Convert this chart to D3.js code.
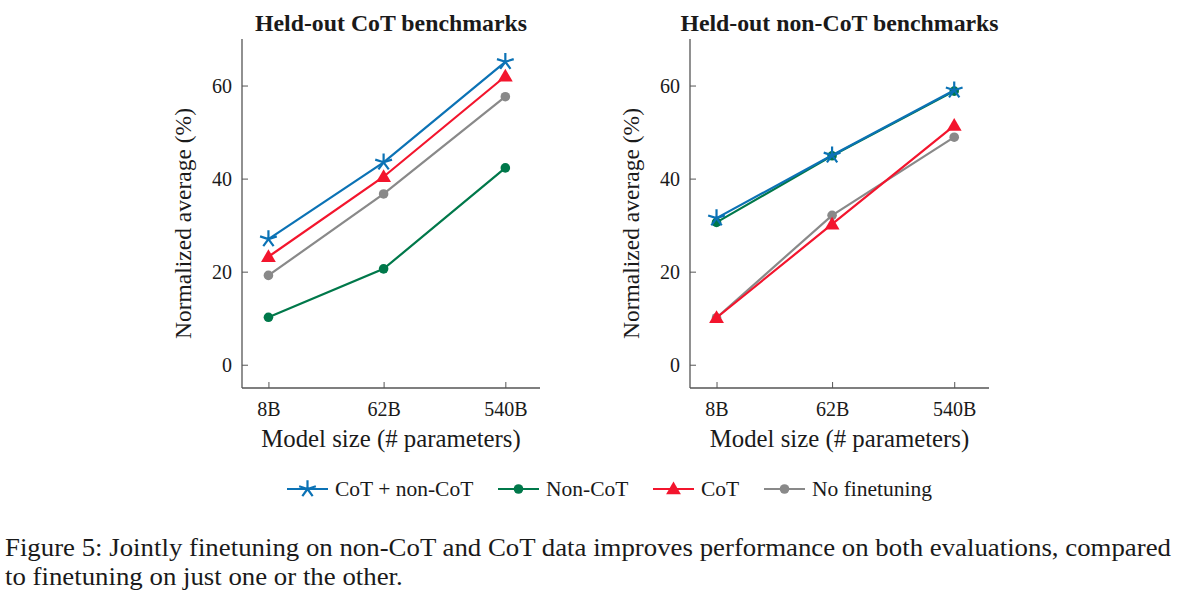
<!DOCTYPE html>
<html>
<head>
<meta charset="utf-8">
<script src="https://cdn.jsdelivr.net/npm/d3@7"></script>
<style>
  html, body { margin: 0; padding: 0; background: #fff; }
  svg { display: block; }
  text { font-family: "Liberation Serif", "Times New Roman", serif; fill: #1a1a1a; }
</style>
</head>
<body>
<svg id="chart" width="1178" height="592"></svg>
<script>
// ---- data ----
const modelSizes = [8, 62, 540];            // billions of parameters
const tickLabels = ["8B", "62B", "540B"];
const yTicks = [0, 20, 40, 60];
const seriesNames = ["CoT + non-CoT", "Non-CoT", "CoT", "No finetuning"];
const panelTitles = ["Held-out CoT benchmarks", "Held-out non-CoT benchmarks"];

// Held-out CoT benchmarks
const cotBoth   = [27.0, 43.5, 65.1];
const cotNonCoT = [10.2, 20.6, 42.3];
const cotCoT    = [23.2, 40.4, 62.0];
const cotNoFT   = [19.2, 36.7, 57.6];

// Held-out non-CoT benchmarks
const nonBoth   = [31.5, 45.0, 59.0];
const nonNonCoT = [30.6, 44.9, 58.8];
const nonCoT    = [10.1, 30.2, 51.4];
const nonNoFT   = [10.1, 32.1, 48.9];

const captionLines = [
  "Figure 5: Jointly finetuning on non-CoT and CoT data improves performance on both evaluations, compared",
  "to finetuning on just one or the other."
];

// ---- styles ----
const colors = { "CoT + non-CoT": "#0b72b5", "Non-CoT": "#00784a", "CoT": "#f3152d", "No finetuning": "#898989" };
const markers = { "CoT + non-CoT": "star", "Non-CoT": "circle", "CoT": "triangle", "No finetuning": "circle" };

const panels = [
  { title: panelTitles[0], left: 242, right: 540,
    series: { "CoT + non-CoT": cotBoth, "Non-CoT": cotNonCoT, "CoT": cotCoT, "No finetuning": cotNoFT } },
  { title: panelTitles[1], left: 690, right: 989,
    series: { "CoT + non-CoT": nonBoth, "Non-CoT": nonNonCoT, "CoT": nonCoT, "No finetuning": nonNoFT } }
];

const svg = d3.select("#chart");
const plotTop = 39, plotBottom = 388;
const y = d3.scaleLinear().domain([-5, 70]).range([plotBottom, plotTop]);
const axisColor = "#555";

function drawMarker(g, type, cx, cy, color) {
  if (type === "circle") {
    g.append("circle").attr("cx", cx).attr("cy", cy).attr("r", 4.8).attr("fill", color);
  } else if (type === "triangle") {
    const s = d3.symbol().type(d3.symbolTriangle).size(95);
    g.append("path").attr("d", s()).attr("transform", `translate(${cx},${cy + 1})`).attr("fill", color);
  } else if (type === "star") {
    const r = 8.8;
    let d = "";
    for (let i = 0; i < 5; i++) {
      const a = -Math.PI / 2 + i * 2 * Math.PI / 5;
      d += `M${cx},${cy}L${cx + r * Math.cos(a)},${cy + r * Math.sin(a)}`;
    }
    g.append("path").attr("d", d).attr("stroke", color).attr("stroke-width", 2.2).attr("fill", "none");
  }
}

panels.forEach(p => {
  const x = d3.scaleLog().domain([5, 1000]).range([p.left, p.right]);
  const g = svg.append("g");

  // title
  g.append("text").attr("x", (p.left + p.right) / 2).attr("y", 31)
    .attr("text-anchor", "middle").attr("font-weight", "bold").attr("font-size", 23.8)
    .text(p.title);

  // axes (ticks inward)
  const yAxis = d3.axisLeft(y).tickValues(yTicks).tickSize(-6).tickPadding(12).tickFormat(d3.format("d"));
  const ga = g.append("g").attr("transform", `translate(${p.left},0)`).call(yAxis);
  const xAxis = d3.axisBottom(x).tickValues(modelSizes).tickSize(-6).tickPadding(14)
    .tickFormat((d, i) => tickLabels[i]);
  const gb = g.append("g").attr("transform", `translate(0,${plotBottom})`).call(xAxis);
  ga.select(".domain").attr("d", `M0,${plotBottom}V${plotTop}`);
  gb.select(".domain").attr("d", `M${p.left},0H${p.right}`);
  [ga, gb].forEach(a => {
    a.select(".domain").attr("stroke", axisColor).attr("stroke-width", 1.3);
    a.selectAll(".tick line").attr("stroke", axisColor).attr("stroke-width", 1);
    a.selectAll(".tick text").attr("font-family", "Liberation Serif").attr("font-size", 20).attr("fill", "#1a1a1a");
  });
  ga.selectAll(".tick text").attr("dy", "0.35em").attr("x", -10);
  gb.selectAll(".tick text").attr("dy", "0.72em");

  // axis labels
  g.append("text").attr("x", (p.left + p.right) / 2).attr("y", 447)
    .attr("text-anchor", "middle").attr("font-size", 24.8).text("Model size (# parameters)");
  g.append("text").attr("transform", `translate(${p.left - 51},${(plotTop + plotBottom) / 2 + 10}) rotate(-90)`)
    .attr("text-anchor", "middle").attr("font-size", 23.5).text("Normalized average (%)");

  // lines, drawn from last legend entry to first
  const line = d3.line().x((d, i) => x(modelSizes[i])).y(d => y(d));
  seriesNames.slice().reverse().forEach(name => {
    const vals = p.series[name];
    g.append("path").datum(vals).attr("d", line).attr("fill", "none")
      .attr("stroke", colors[name]).attr("stroke-width", 2.2);
    vals.forEach((v, i) => drawMarker(g, markers[name], x(modelSizes[i]), y(v), colors[name]));
  });
});

// legend
const legendX = [287, 498, 653, 764];
const ly = 489;
const lg = svg.append("g");
seriesNames.forEach((name, i) => {
  const x0 = legendX[i];
  lg.append("line").attr("x1", x0).attr("x2", x0 + 41).attr("y1", ly).attr("y2", ly)
    .attr("stroke", colors[name]).attr("stroke-width", 2.2);
  drawMarker(lg, markers[name], x0 + 20.5, ly, colors[name]);
  lg.append("text").attr("x", x0 + 48).attr("y", ly + 7).attr("font-size", 21.5).text(name);
});

// caption
const cap = svg.append("g");
const t1 = cap.append("text").attr("x", 5).attr("y", 556).attr("font-size", 25).text(captionLines[0]);
const t2 = cap.append("text").attr("x", 5).attr("y", 585).attr("font-size", 25).text(captionLines[1]);
const w1 = t1.node().getComputedTextLength();
const w2 = t2.node().getComputedTextLength();
const k = 1166 / w1;
t1.attr("textLength", 1166).attr("lengthAdjust", "spacingAndGlyphs");
t2.attr("textLength", w2 * k).attr("lengthAdjust", "spacingAndGlyphs");
</script>
</body>
</html>
